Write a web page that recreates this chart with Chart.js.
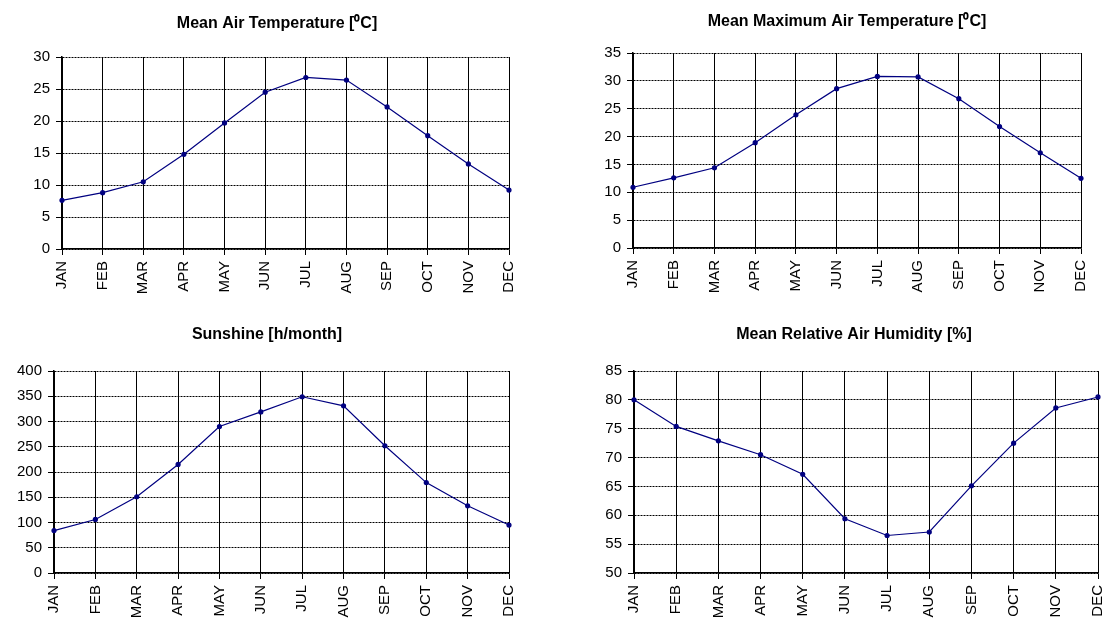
<!DOCTYPE html>
<html>
<head>
<meta charset="utf-8">
<script src="https://cdn.jsdelivr.net/npm/chart.js@4/dist/chart.umd.min.js"></script>
<style>
  body{margin:0;background:#fff;}
  .box{position:absolute;}
</style>
</head>
<body>
<div class="box" style="left:0;top:0;width:550px;height:300px;"><canvas id="c1"></canvas></div>
<div class="box" style="left:550px;top:0;width:555px;height:300px;"><canvas id="c2"></canvas></div>
<div class="box" style="left:0;top:300px;width:550px;height:322px;"><canvas id="c3"></canvas></div>
<div class="box" style="left:550px;top:300px;width:555px;height:322px;"><canvas id="c4"></canvas></div>
<script>
// データ
const months = ['JAN','FEB','MAR','APR','MAY','JUN','JUL','AUG','SEP','OCT','NOV','DEC'];
const meanTemp = [7.6, 8.8, 10.5, 14.8, 19.7, 24.5, 26.8, 26.4, 22.2, 17.7, 13.3, 9.2];
const maxTemp = [10.9, 12.6, 14.4, 18.9, 23.9, 28.6, 30.8, 30.7, 26.8, 21.8, 17.1, 12.5];
const sunshine = [84, 106, 151, 215, 290, 319, 349, 331, 252, 179, 133, 95];
const humidity = [80, 75.4, 72.9, 70.5, 67.1, 59.4, 56.5, 57.1, 65.1, 72.5, 78.6, 80.5];

const titles = ['Mean Air Temperature [\u2070C]', 'Mean Maximum Air Temperature [\u2070C]', 'Sunshine [h/month]', 'Mean Relative Air Humidity [%]'];
const yMin = [0, 0, 0, 50];
const yMax = [30, 35, 400, 85];
const yStep = [5, 5, 50, 5];

// 配置 (キャンバス内の座標)
const boxes = [
  {id:'c1', w:550, h:300, titleX:277, titleY:24, left:62, right:509, top:57, bottom:249},
  {id:'c2', w:555, h:300, titleX:297, titleY:22, left:83, right:531, top:53, bottom:248},
  {id:'c3', w:550, h:322, titleX:267, titleY:35, left:54, right:509, top:71, bottom:273},
  {id:'c4', w:555, h:322, titleX:304, titleY:35, left:84, right:548, top:71, bottom:273}
];

Chart.defaults.font.family = '"Liberation Sans", Arial, sans-serif';
Chart.defaults.color = '#000';

const series = [meanTemp, maxTemp, sunshine, humidity];
const titleSize = 16;

for (let i = 0; i < 4; i++) {
  const b = boxes[i];
  // タイトルの中心を合わせるため、右側にダミーの軸で余白を作る
  const ext = Math.min(b.w, 2 * b.titleX);
  const padL = 2 * b.titleX - ext;
  const yWidth = b.left - padL;
  const rightGap = ext - b.right;
  const xHeight = b.h - b.bottom;
  const lh = titleSize * 1.2;

  new Chart(document.getElementById(b.id), {
    type: 'line',
    data: {
      labels: months,
      datasets: [{
        data: series[i],
        borderColor: '#000080',
        backgroundColor: '#000080',
        borderWidth: 1.2,
        pointRadius: 2,
        pointHoverRadius: 2,
        tension: 0,
        yAxisID: 'y'
      }]
    },
    options: {
      responsive: true,
      maintainAspectRatio: false,
      animation: false,
      layout: {
        padding: {left: padL, right: b.w - ext, top: 0, bottom: 0}
      },
      plugins: {
        legend: {display: false},
        tooltip: {enabled: false},
        title: {
          display: true,
          text: titles[i],
          font: {size: titleSize, weight: 'bold'},
          color: '#000',
          padding: {top: b.titleY - lh / 2, bottom: b.top - b.titleY - lh / 2}
        }
      },
      scales: {
        x: {
          type: 'category',
          offset: false,
          grid: {
            offset: false,
            color: '#000',
            lineWidth: 1,
            tickLength: 6,
            tickColor: '#000'
          },
          border: {color: '#000', width: 1.5},
          ticks: {
            autoSkip: false,
            maxRotation: 90,
            minRotation: 90,
            padding: 6,
            font: {size: 15}
          },
          afterFit: function(scale) {
            scale.height = xHeight;
            scale.paddingLeft = 0;
            scale.paddingRight = 0;
          }
        },
        y: {
          position: 'left',
          min: yMin[i],
          max: yMax[i],
          grid: {
            color: '#000',
            lineWidth: 1,
            tickLength: 6,
            tickColor: '#000',
            tickBorderDash: []
          },
          border: {color: '#000', width: 1.5, dash: [2, 1]},
          ticks: {
            stepSize: yStep[i],
            padding: 6,
            font: {size: 15}
          },
          afterFit: function(scale) {
            scale.width = yWidth;
            scale.paddingTop = 0;
            scale.paddingBottom = 0;
          }
        },
        yr: {
          position: 'right',
          display: true,
          grid: {display: false},
          border: {display: false},
          ticks: {display: false},
          afterFit: function(scale) {
            scale.width = rightGap;
            scale.paddingTop = 0;
            scale.paddingBottom = 0;
          }
        }
      }
    }
  });
}
</script>
</body>
</html>
